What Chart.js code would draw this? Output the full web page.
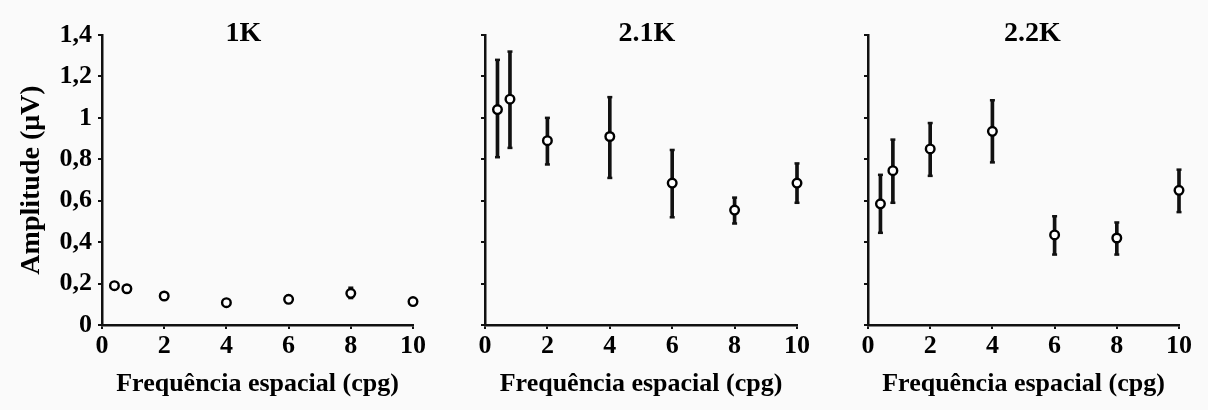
<!DOCTYPE html>
<html>
<head>
<meta charset="utf-8">
<script src="https://cdn.jsdelivr.net/npm/chart.js@4.4.1/dist/chart.umd.min.js"></script>
<style>
  html, body { margin: 0; padding: 0; background: #fafafa; }
  .panel { position: absolute; top: 0; height: 410px; }
</style>
</head>
<body>
<div class="panel" id="p1" style="left:0;width:440px"><canvas id="c1"></canvas></div>
<div class="panel" id="p2" style="left:440px;width:390px"><canvas id="c2"></canvas></div>
<div class="panel" id="p3" style="left:830px;width:378px"><canvas id="c3"></canvas></div>
<script>
// spatial frequency (cpg)
var freq = [0.4, 0.8, 2, 4, 6, 8, 10];

// amplitude (uV) with error bar limits, one set per panel
var amp1K = [0.19, 0.175, 0.14, 0.108, 0.124, 0.153, 0.113];
var lo1K  = [0.175, 0.175, 0.14, 0.108, 0.11, 0.13, 0.113];
var hi1K  = [0.205, 0.175, 0.14, 0.108, 0.14, 0.18, 0.113];

var amp21K = [1.04, 1.09, 0.89, 0.91, 0.685, 0.555, 0.685];
var lo21K  = [0.81, 0.855, 0.775, 0.71, 0.52, 0.49, 0.59];
var hi21K  = [1.28, 1.32, 1.0, 1.1, 0.845, 0.615, 0.78];

var amp22K = [0.585, 0.745, 0.85, 0.935, 0.435, 0.42, 0.65];
var lo22K  = [0.445, 0.59, 0.72, 0.785, 0.34, 0.34, 0.545];
var hi22K  = [0.725, 0.895, 0.975, 1.085, 0.525, 0.495, 0.75];

var yTickLabels = ['0', '0,2', '0,4', '0,6', '0,8', '1', '1,2', '1,4'];
var xTickLabels = ['0', '2', '4', '6', '8', '10'];

var FONT = "'Liberation Serif', 'Times New Roman', serif";

// panel title drawn over the top of the plot area
var panelTitle = {
    id: 'panelTitle',
    afterDraw: function(chart, args, opts) {
        var ctx = chart.ctx, a = chart.chartArea;
        ctx.save();
        ctx.font = 'bold 28px ' + FONT;
        ctx.fillStyle = '#000';
        ctx.textAlign = 'center';
        ctx.textBaseline = 'middle';
        ctx.fillText(opts.text, (a.left + a.right) / 2 + (opts.dx || 0), 34);
        ctx.restore();
    }
};

function makePanel(id, title, amp, lo, hi, cfg) {
    var pts = freq.map(function(x, i) { return {x: x, y: amp[i]}; });
    var bars = freq.map(function(x, i) { return {x: x, y: [lo[i], hi[i]]}; });
    var caps = [];
    freq.forEach(function(x, i) {
        if (hi[i] > lo[i]) {
            caps.push({x: x, y: lo[i]});
            caps.push({x: x, y: hi[i]});
        }
    });

    return new Chart(document.getElementById(id), {
        type: 'scatter',
        data: {
            datasets: [
                {
                    type: 'scatter',
                    data: pts,
                    pointStyle: 'circle',
                    pointRadius: 4.3,
                    pointBackgroundColor: '#fff',
                    pointBorderColor: '#000',
                    pointBorderWidth: 2.4,
                    clip: false,
                    order: 0
                },
                {
                    type: 'bar',
                    data: bars,
                    backgroundColor: '#111',
                    barThickness: 3,
                    grouped: false,
                    clip: false,
                    order: 2
                },
                {
                    type: 'scatter',
                    data: caps,
                    pointStyle: 'line',
                    pointRadius: 2.5,
                    pointBorderColor: '#111',
                    pointBorderWidth: 2.5,
                    clip: false,
                    order: 1
                }
            ]
        },
        options: {
            responsive: true,
            maintainAspectRatio: false,
            animation: false,
            events: [],
            layout: { padding: { top: 35, right: cfg.padRight, bottom: 10, left: 0 } },
            plugins: {
                legend: { display: false },
                tooltip: { enabled: false },
                panelTitle: { text: title, dx: cfg.dx }
            },
            scales: {
                x: {
                    type: 'linear',
                    min: 0, max: 10,
                    offset: false,
                    border: { display: true, color: '#111', width: 2.5 },
                    grid: { offset: false, drawOnChartArea: false, drawTicks: true, tickLength: 4, color: '#111', lineWidth: 2 },
                    ticks: {
                        stepSize: 2,
                        padding: 2,
                        color: '#000',
                        font: { family: FONT, size: 26, weight: 'bold' },
                        callback: function(v) { return xTickLabels[Math.round(v / 2)]; }
                    },
                    title: {
                        display: true,
                        text: 'Frequência espacial (cpg)',
                        color: '#000',
                        padding: { top: 0, bottom: 0 },
                        font: { family: FONT, size: 26, weight: 'bold' }
                    },
                    afterFit: function(s) { s.height = 75; }
                },
                y: {
                    min: 0, max: 1.4,
                    border: { display: true, color: '#111', width: 2.5 },
                    grid: { drawOnChartArea: false, drawTicks: true, tickLength: 4, color: '#111', lineWidth: 2 },
                    ticks: {
                        stepSize: 0.2,
                        padding: 6,
                        display: cfg.labels,
                        color: '#000',
                        font: { family: FONT, size: 26, weight: 'bold' },
                        callback: function(v) { return yTickLabels[Math.round(v / 0.2)]; }
                    },
                    title: {
                        display: cfg.labels,
                        text: 'Amplitude (μV)',
                        color: '#000',
                        padding: { top: 15, bottom: 0 },
                        font: { family: FONT, size: 28, weight: 'bold' }
                    },
                    afterFit: function(s) { s.width = cfg.yWidth; }
                }
            }
        },
        plugins: [panelTitle]
    });
}

makePanel('c1', '1K', amp1K, lo1K, hi1K, { yWidth: 102, padRight: 27, labels: true, dx: -14 });
makePanel('c2', '2.1K', amp21K, lo21K, hi21K, { yWidth: 45, padRight: 33, labels: false, dx: 6 });
makePanel('c3', '2.2K', amp22K, lo22K, hi22K, { yWidth: 38, padRight: 29, labels: false, dx: 9 });
</script>
</body>
</html>
